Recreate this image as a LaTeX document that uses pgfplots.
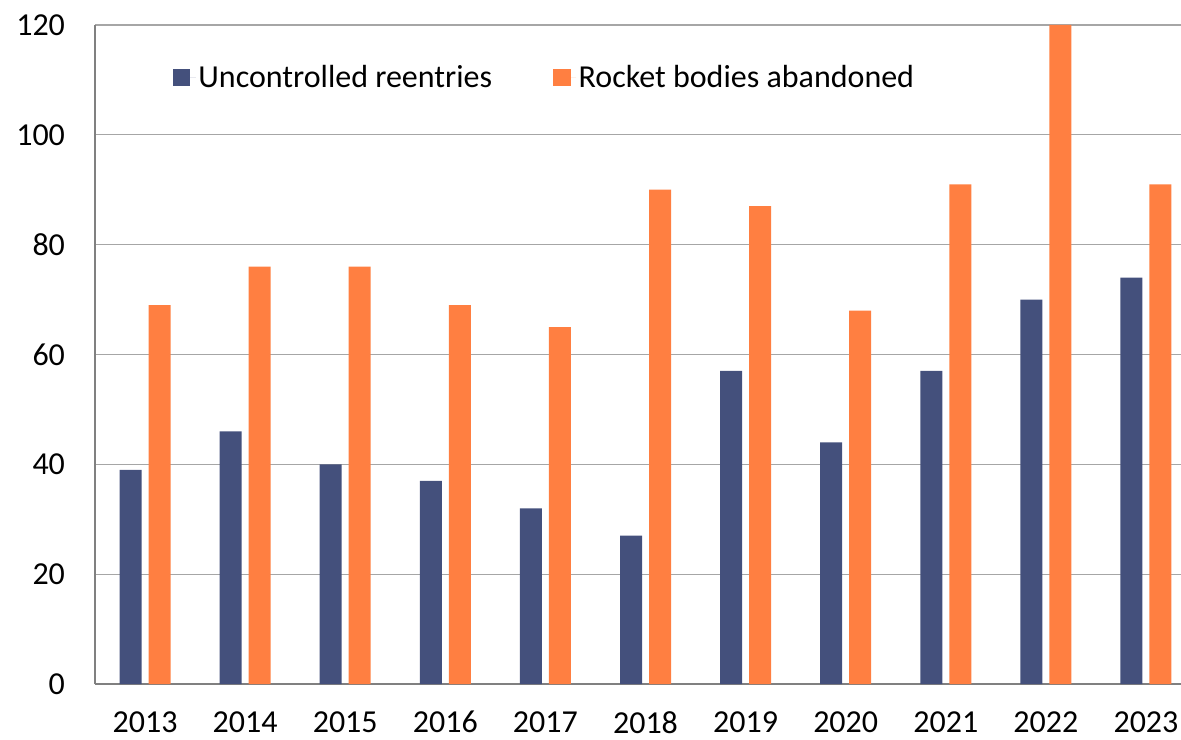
\documentclass[border=0pt]{standalone}
\usepackage{fontspec}
\setmainfont{Carlito}
\usepackage{pgfplots}
\pgfplotsset{compat=1.18}
\definecolor{cblue}{HTML}{44507C}
\definecolor{corange}{HTML}{FF7F41}
\definecolor{cgrid}{HTML}{A6A6A6}
\definecolor{caxis}{HTML}{808080}
\begin{document}
\begin{tikzpicture}
\useasboundingbox (0,0) rectangle (885.75pt,554.25pt);
\begin{axis}[
  at={(71.25pt,41.25pt)}, anchor=south west,
  scale only axis, width=814.5pt, height=494.25pt,
  ybar=5.25pt, bar width=16.5pt,
  xmin=-0.5, xmax=10.35, ymin=0, ymax=120,
  xtick={0,...,10},
  xticklabels={2013,2014,2015,2016,2017,2018,2019,2020,2021,2022,2023},
  ytick={0,20,...,120},
  major tick length=0pt,
  axis x line*=bottom, axis y line*=left,
  axis line style={caxis, line width=1.5pt, -},
  ymajorgrids, grid style={cgrid, line width=0.9pt},
  font=\fontsize{24}{28}\selectfont,
  /pgf/number format/assume math mode=true,
  tick label style={font=\fontsize{24}{28}\selectfont},
  yticklabel style={xshift=-19pt},
  xticklabel style={yshift=-17pt},
  legend columns=2,
  legend style={draw=none, fill=none, at={(0.068,0.92)}, anchor=west,
    font=\fontsize{24}{28}\selectfont,
    /tikz/every even column/.append style={column sep=44pt}},
  legend image code/.code={\fill[#1] (0pt,-6.5pt) rectangle (13pt,6.5pt); \path (0pt,0pt) -- (17pt,0pt);},
]
\addplot[fill=cblue, draw=none] coordinates {(0,39) (1,46) (2,40) (3,37) (4,32) (5,27) (6,57) (7,44) (8,57) (9,70) (10,74)};
\addlegendentry{Uncontrolled reentries}
\addplot[fill=corange, draw=none] coordinates {(0,69) (1,76) (2,76) (3,69) (4,65) (5,90) (6,87) (7,68) (8,91) (9,120) (10,91)};
\addlegendentry{Rocket bodies abandoned}
\end{axis}
\end{tikzpicture}
\end{document}
